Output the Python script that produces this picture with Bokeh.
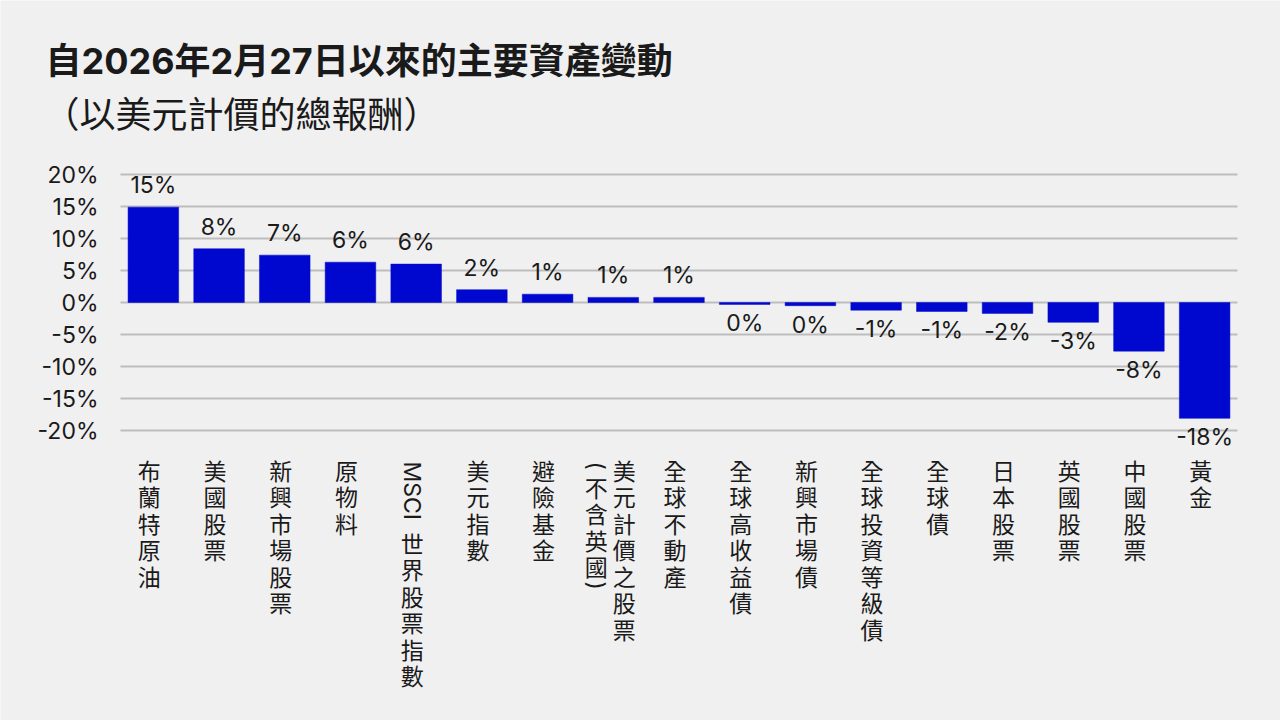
import math
from bokeh.plotting import figure
from bokeh.models import ColumnDataSource, Range1d, LabelSet, Label
from bokeh.embed import file_html
from bokeh.resources import INLINE
from bokeh.core.properties import value

# ---------------- data ----------------
title_text = "自2026年2月27日以來的主要資產變動"
subtitle_text = "（以美元計價的總報酬）"

categories = [
    "布蘭特原油", "美國股票", "新興市場股票", "原物料", "MSCI 世界股票指數",
    "美元指數", "避險基金", "美元計價之股票(不含英國)", "全球不動產",
    "全球高收益債", "新興市場債", "全球投資等級債", "全球債", "日本股票",
    "英國股票", "中國股票", "黃金",
]
values = [14.9, 8.4, 7.4, 6.3, 6.0, 2.0, 1.3, 0.8, 0.8,
          -0.3, -0.5, -1.2, -1.4, -1.7, -3.1, -7.6, -18.1]
value_labels = ["15%", "8%", "7%", "6%", "6%", "2%", "1%", "1%", "1%",
                "0%", "0%", "-1%", "-1%", "-2%", "-3%", "-8%", "-18%"]
y_ticks = [-20, -15, -10, -5, 0, 5, 10, 15, 20]

# ---------------- style ----------------
BG = "#f0f0f0"
BLUE = "#0008CF"
TXT = "#1a1a1a"
GRID = "#bdbdbd"
NUM_FONT = "Inter, 'Noto Sans CJK TC'"
CJK_FONT = "'Noto Sans CJK TC'"
FS = "23px"

W, H = 1280, 720
n = len(categories)
idx = list(range(n))

# the frame is the whole canvas; scales place the bars at 120..1237 px
# horizontally and 20%..-20% at 174..430 px vertically
PX_PER_CAT = (1237 - 120) / n
PX_PER_PCT = 6.4
ZERO_PX = 302
x_start = -0.5 - 120 / PX_PER_CAT
x_end = x_start + W / PX_PER_CAT
y_end = ZERO_PX / PX_PER_PCT
y_start = y_end - H / PX_PER_PCT

p = figure(width=W, height=H,
           x_range=Range1d(x_start, x_end), y_range=Range1d(y_start, y_end),
           output_backend="svg", toolbar_location=None,
           min_border=0, min_border_left=0, min_border_right=0,
           min_border_top=0, min_border_bottom=0,
           background_fill_color=BG, border_fill_color=BG,
           outline_line_color=None)
p.title.visible = False
p.xaxis.visible = False
p.yaxis.visible = False
p.xgrid.visible = False
p.ygrid.visible = False

# grid lines
p.segment(x0=[-0.5] * len(y_ticks), x1=[n - 0.5] * len(y_ticks),
          y0=y_ticks, y1=y_ticks, line_color=GRID, line_width=2)

# y tick labels
tick_src = ColumnDataSource(dict(x=[-0.5] * len(y_ticks), y=y_ticks,
                                 t=["%d%%" % t for t in y_ticks]))
p.add_layout(LabelSet(x="x", y="y", text="t", source=tick_src,
                      x_offset=-22, text_align="right", text_baseline="middle",
                      text_font=value(NUM_FONT), text_font_size=FS,
                      text_color=TXT))

# bars
src = ColumnDataSource(dict(x=idx, val=values, lbl=value_labels))
p.vbar(x="x", top="val", width=0.77, source=src,
       fill_color=BLUE, line_color=BLUE, line_width=0.5)

# value labels
pos_idx = [i for i, v in enumerate(values) if v >= 0]
neg_idx = [i for i, v in enumerate(values) if v < 0]
pos_src = ColumnDataSource(dict(x=pos_idx, val=[values[i] for i in pos_idx],
                                lbl=[value_labels[i] for i in pos_idx]))
neg_src = ColumnDataSource(dict(x=neg_idx, val=[values[i] for i in neg_idx],
                                lbl=[value_labels[i] for i in neg_idx]))
p.add_layout(LabelSet(x="x", y="val", text="lbl", source=pos_src,
                      text_align="center", text_baseline="bottom", y_offset=8,
                      text_font=value(NUM_FONT), text_font_size=FS,
                      text_color=TXT))
p.add_layout(LabelSet(x="x", y="val", text="lbl", source=neg_src,
                      text_align="center", text_baseline="top", y_offset=-5,
                      text_font=value(NUM_FONT), text_font_size=FS,
                      text_color=TXT))

# category labels (vertical writing)
TOP = -22
PITCH = 26
up_x, up_txt, up_xo, up_yo = [], [], [], []
rot_x, rot_txt, rot_xo, rot_yo = [], [], [], []
for i, c in enumerate(categories):
    if c.startswith("MSCI "):
        latin, cjk = c.split(" ", 1)
        rot_x.append(i); rot_txt.append(latin); rot_xo.append(-4); rot_yo.append(TOP - 9)
        up_x.append(i); up_txt.append("\n".join(cjk)); up_xo.append(-4); up_yo.append(TOP - 73)
    elif "(" in c:
        main, rest = c.split("(", 1)
        inner = rest.rstrip(")")
        up_x.append(i); up_txt.append("\n".join(main)); up_xo.append(11); up_yo.append(TOP)
        rot_x.append(i); rot_txt.append("("); rot_xo.append(-17); rot_yo.append(TOP - 9)
        up_x.append(i); up_txt.append("\n".join(inner)); up_xo.append(-17); up_yo.append(TOP - 17)
        rot_x.append(i); rot_txt.append(")"); rot_xo.append(-17)
        rot_yo.append(TOP - 17 - PITCH * len(inner) - 8)
    else:
        up_x.append(i); up_txt.append("\n".join(c)); up_xo.append(-4); up_yo.append(TOP)

up_src = ColumnDataSource(dict(x=up_x, txt=up_txt, xo=up_xo, yo=up_yo,
                               y=[y_ticks[0]] * len(up_x)))
rot_src = ColumnDataSource(dict(x=rot_x, txt=rot_txt, xo=rot_xo, yo=rot_yo,
                                y=[y_ticks[0]] * len(rot_x)))
p.add_layout(LabelSet(x="x", y="y", text="txt", source=up_src,
                      x_offset="xo", y_offset="yo",
                      text_align="center", text_baseline="top",
                      text_line_height=0.78,
                      text_font=value(CJK_FONT), text_font_size=FS,
                      text_color=TXT))
p.add_layout(LabelSet(x="x", y="y", text="txt", source=rot_src,
                      x_offset="xo", y_offset="yo", angle=-math.pi / 2,
                      text_align="left", text_baseline="middle",
                      text_font=value(NUM_FONT), text_font_size=FS,
                      text_color=TXT))

# titles (screen units measured from the frame's bottom-left = canvas)
p.add_layout(Label(x=45, y=H - 60, x_units="screen", y_units="screen",
                   text=title_text, text_font=NUM_FONT, text_font_style="bold",
                   text_font_size="36px", text_color=TXT,
                   text_align="left", text_baseline="middle"))
p.add_layout(Label(x=43, y=H - 111, x_units="screen", y_units="screen",
                   text=subtitle_text, text_font=CJK_FONT,
                   text_font_size="36px", text_color=TXT,
                   text_align="left", text_baseline="middle"))

open("out.html", "w").write(file_html(p, INLINE))
